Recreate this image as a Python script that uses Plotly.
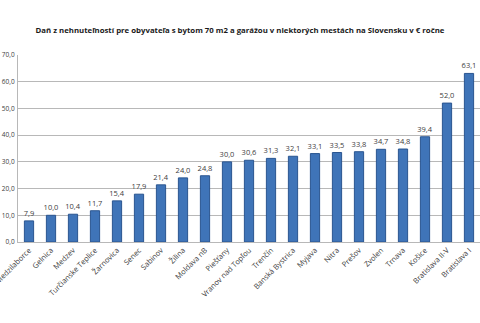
import plotly.graph_objects as go

cities = ["Medzilaborce", "Gelnica", "Medzev", "Turčianske Teplice", "Žarnovica", "Senec",
          "Sabinov", "Žilina", "Moldava nB", "Piešťany", "Vranov nad Topľou", "Trenčín",
          "Banská Bystrica", "Myjava", "Nitra", "Prešov", "Zvolen", "Trnava", "Košice",
          "Bratislava II-V", "Bratislava I"]
tax = [7.9, 10.0, 10.4, 11.7, 15.4, 17.9, 21.4, 24.0, 24.8, 30.0, 30.6, 31.3,
       32.1, 33.1, 33.5, 33.8, 34.7, 34.8, 39.4, 52.0, 63.1]
y_ticks = [0, 10, 20, 30, 40, 50, 60, 70]
y_tick_labels = ["0,0", "10,0", "20,0", "30,0", "40,0", "50,0", "60,0", "70,0"]
title = "Daň z nehnuteľností pre obyvateľa s bytom 70 m2 a garážou v niektorých mestách na Slovensku v € ročne"

labels = [f"{v:.1f}".replace(".", ",") for v in tax]

fig = go.Figure(go.Bar(
    x=cities, y=tax, text=labels, textposition="outside",
    textfont=dict(size=7.5, color="#404040", family="Open Sans"),
    constraintext="none",
    cliponaxis=False,
    width=0.42,
    marker=dict(color="#3f74b8", line=dict(color="#2a5590", width=1)),
))

fig.update_layout(
    width=480, height=323,
    margin=dict(l=18, r=0, t=55, b=81, autoexpand=False),
    paper_bgcolor="white", plot_bgcolor="white",
    title=dict(text=title, x=0.5, xanchor="center", y=0.905, yanchor="middle",
               font=dict(size=7.8, family="Open Sans", color="#1a1a1a", weight="bold")),
    showlegend=False,
    font=dict(family="Open Sans", color="#404040"),
)
fig.update_yaxes(range=[0, 70], tickvals=y_ticks, ticktext=y_tick_labels,
                 tickfont=dict(size=6.5, color="#404040"),
                 showgrid=True, gridcolor="#b8b8b8", gridwidth=1,
                 showline=True, linecolor="#b8b8b8", zeroline=False,
                 automargin=False, ticklabelstandoff=1)
fig.update_xaxes(tickangle=-45, tickfont=dict(size=7.5, color="#404040"),
                 showline=True, linecolor="#b8b8b8", ticks="",
                 automargin=False, range=[-0.5, 20.5])

fig.write_html("out.html")
